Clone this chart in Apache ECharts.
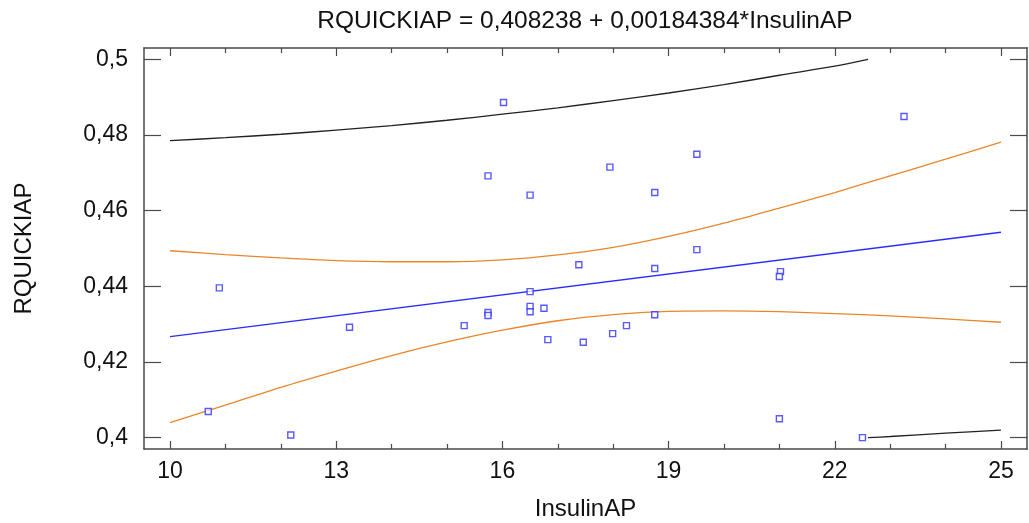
<!DOCTYPE html>
<html>
<head>
<meta charset="utf-8">
<script src="https://cdn.jsdelivr.net/npm/echarts@6/dist/echarts.min.js"></script>
<style>html,body{margin:0;padding:0;background:#fff;}#c{width:1029px;height:523px;}</style>
</head>
<body>
<div id="c"></div>
<script>
// ---- data ----
const titleText = 'RQUICKIAP = 0,408238 + 0,00184384*InsulinAP';
const xName = 'InsulinAP';
const yName = 'RQUICKIAP';

const xTicks = [10, 13, 16, 19, 22, 25];
const xTickLabels = ['10', '13', '16', '19', '22', '25'];
const xMinorTicks = [11, 12, 14, 15, 17, 18, 20, 21, 23, 24];
const yTicks = [0.4, 0.42, 0.44, 0.46, 0.48, 0.5];
const yTickLabels = ['0,4', '0,42', '0,44', '0,46', '0,48', '0,5'];

// observed points [InsulinAP, RQUICKIAP]
const pointsX = [16.02, 15.74, 16.50, 17.94, 18.75, 19.51, 19.51, 23.25, 10.89, 13.24, 10.69, 12.18,
                 17.38, 18.75, 16.50, 16.50, 16.50, 16.75, 15.74, 15.74, 15.31, 16.82, 17.46, 17.99,
                 18.24, 18.75, 21.02, 21.00, 21.00, 22.50];
const pointsY = [0.4886, 0.4692, 0.4641, 0.4715, 0.4648, 0.4749, 0.4497, 0.4849, 0.4396, 0.4292, 0.4069, 0.4007,
                 0.4457, 0.4447, 0.4386, 0.4347, 0.4333, 0.4342, 0.4331, 0.4323, 0.4296, 0.4259, 0.4252, 0.4275,
                 0.4296, 0.4325, 0.4439, 0.4426, 0.4050, 0.4000];

// fitted line end points
const fitX = [10, 25];
const fitY = [0.4267, 0.4543];

// confidence limits for the mean (orange)
const bandX = [10, 11, 12, 13, 14, 15, 16, 17, 18, 19, 20, 21, 22, 23, 24, 25];
const ciUpper = [0.4494, 0.4484, 0.4475, 0.4468, 0.4465, 0.4465, 0.4470, 0.4483, 0.4503, 0.4532, 0.4567, 0.4607, 0.4648, 0.4692, 0.4736, 0.4781];
const ciLower = [0.4040, 0.4086, 0.4133, 0.4176, 0.4217, 0.4253, 0.4284, 0.4309, 0.4325, 0.4334, 0.4335, 0.4333, 0.4328, 0.4322, 0.4314, 0.4305];

// prediction limits (black), shown only inside 0.4..0.5
const piUpperX = [10, 11, 12, 13, 14, 15, 16, 17, 18, 19, 20, 21, 22, 22.6];
const piUpper = [0.4785, 0.4793, 0.4802, 0.4813, 0.4825, 0.4839, 0.4855, 0.4872, 0.4891, 0.4911, 0.4933, 0.4958, 0.4982, 0.5000];
const piLowerX = [22.6, 23, 24, 25];
const piLower = [0.4000, 0.4003, 0.4012, 0.4020];

// ---- chart ----
const zip = (xs, ys) => xs.map((x, i) => [x, ys[i]]);
const FONT = '"Liberation Sans", Arial, sans-serif';
const TXT = '#111';
const FRAME = '#4a4a4a';
const xMin = 9.53, xMax = 25.47, yMin = 0.397, yMax = 0.503;

function xAxisDef(pos, ticks, len, showLine, showLabel) {
  return {
    type: 'value', position: pos, min: xMin, max: xMax,
    axisLine: { show: showLine, onZero: false, lineStyle: { color: FRAME, width: 1.5 } },
    axisTick: { show: true, inside: true, length: len, customValues: ticks, lineStyle: { color: FRAME, width: 1.2 } },
    axisLabel: showLabel ? {
      show: true, customValues: xTicks, margin: 11, fontSize: 23, fontFamily: FONT, color: TXT,
      formatter: v => { const i = xTicks.findIndex(t => Math.abs(t - v) < 1e-6); return i >= 0 ? xTickLabels[i] : ''; }
    } : { show: false },
    splitLine: { show: false }
  };
}
function yAxisDef(pos, showLabel) {
  return {
    type: 'value', position: pos, min: yMin, max: yMax,
    axisLine: { show: true, onZero: false, lineStyle: { color: FRAME, width: 1.5 } },
    axisTick: { show: true, inside: true, length: 17, customValues: yTicks, lineStyle: { color: FRAME, width: 1.2 } },
    axisLabel: showLabel ? {
      show: true, customValues: yTicks, margin: 16, fontSize: 23, fontFamily: FONT, color: TXT,
      formatter: v => { const i = yTicks.findIndex(t => Math.abs(t - v) < 1e-6); return i >= 0 ? yTickLabels[i] : ''; }
    } : { show: false },
    splitLine: { show: false }
  };
}

const xAxes = [
  xAxisDef('bottom', xTicks, 8, true, true),
  xAxisDef('bottom', xMinorTicks, 5, false, false),
  xAxisDef('top', xTicks, 8, true, false),
  xAxisDef('top', xMinorTicks, 5, false, false)
];
xAxes[0].name = xName;
xAxes[0].nameLocation = 'middle';
xAxes[0].nameGap = 48;
xAxes[0].nameTextStyle = { fontSize: 24, fontFamily: FONT, color: TXT };

const yAxes = [yAxisDef('left', true), yAxisDef('right', false)];
yAxes[0].name = yName;
yAxes[0].nameLocation = 'middle';
yAxes[0].nameGap = 108;
yAxes[0].nameTextStyle = { fontSize: 24, fontFamily: FONT, color: TXT };

const lineBase = { type: 'line', showSymbol: false, symbol: 'none', xAxisIndex: 0, yAxisIndex: 0, silent: true };

const chart = echarts.init(document.getElementById('c'), null, { renderer: 'canvas' });
chart.setOption({
  animation: false,
  backgroundColor: '#fff',
  grid: { left: 144, top: 48, width: 883, height: 401, containLabel: false, outerBoundsMode: 'none' },
  graphic: [{
    type: 'text', x: 585, y: 9,
    style: { text: titleText, fontSize: 24.5, fontFamily: FONT, fill: TXT, align: 'center', verticalAlign: 'top' }
  }],
  xAxis: xAxes,
  yAxis: yAxes,
  series: [
    Object.assign({}, lineBase, { name: 'piU', data: zip(piUpperX, piUpper), lineStyle: { color: '#222', width: 1.3 }, smooth: 0.3 }),
    Object.assign({}, lineBase, { name: 'piL', data: zip(piLowerX, piLower), lineStyle: { color: '#222', width: 1.3 }, smooth: 0.3 }),
    Object.assign({}, lineBase, { name: 'ciU', data: zip(bandX, ciUpper), lineStyle: { color: '#e8862a', width: 1.3 }, smooth: 0.3 }),
    Object.assign({}, lineBase, { name: 'ciL', data: zip(bandX, ciLower), lineStyle: { color: '#e8862a', width: 1.3 }, smooth: 0.3 }),
    Object.assign({}, lineBase, { name: 'fit', data: zip(fitX, fitY), lineStyle: { color: '#2b2bff', width: 1.3 } }),
    {
      type: 'scatter', name: 'obs', xAxisIndex: 0, yAxisIndex: 0, silent: true,
      data: zip(pointsX, pointsY), symbol: 'rect', symbolSize: 6,
      itemStyle: { color: '#ffffff', borderColor: '#2f2fff', borderWidth: 1.4 }, z: 5
    }
  ]
});
</script>
</body>
</html>
